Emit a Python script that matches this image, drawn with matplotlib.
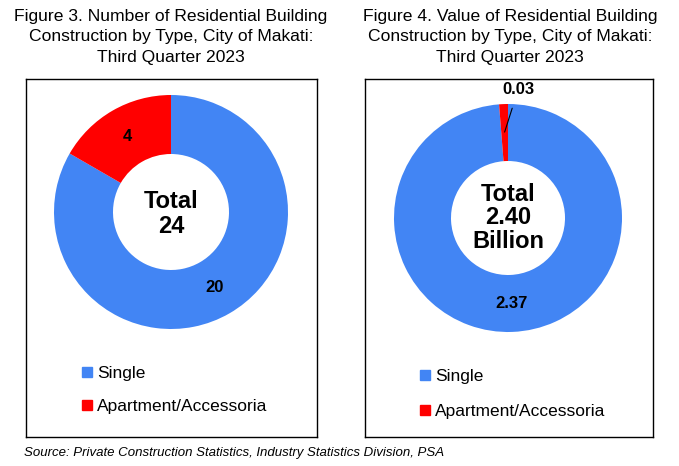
import matplotlib.pyplot as plt
from matplotlib.patches import Patch
import numpy as np

plt.rcParams['font.family'] = ['Liberation Sans', 'DejaVu Sans']

categories = ['Single', 'Apartment/Accessoria']
count_values = [20, 4]
value_billions = [2.37, 0.03]
count_labels = ['20', '4']
value_labels = ['2.37', '0.03']
colors = ['#4285F4', '#FF0000']

W, H = 679, 466
fig = plt.figure(figsize=(W / 100, H / 100), dpi=100)


def panel_axes(x0, y0, x1, y1):
    # box given in pixel coords from top-left
    ax = fig.add_axes([x0 / W, 1 - y1 / H, (x1 - x0) / W, (y1 - y0) / H])
    return ax


def tidy(ax, w, h):
    ax.set_xlim(0, w)
    ax.set_ylim(0, h)
    ax.set_xticks([])
    ax.set_yticks([])
    for s in ax.spines.values():
        s.set_linewidth(1.0)
        s.set_color('black')


label_style = dict(fontsize=12, fontweight='bold', ha='center', va='center')

# Figure 3 - count
ax1 = panel_axes(26, 79, 317, 437)
c1 = (145, 225)
wedges, texts = ax1.pie(count_values, colors=colors, startangle=90, counterclock=False,
                        radius=117, center=c1, labels=count_labels, labeldistance=0.75,
                        wedgeprops=dict(width=59, linewidth=0),
                        textprops=label_style, frame=True)
tidy(ax1, 291, 358)
ax1.text(c1[0], c1[1] - 2, 'Total\n24', ha='center', va='center', fontsize=17,
         fontweight='bold', linespacing=1.1)
ax1.legend([Patch(color=c) for c in colors], categories, loc='upper left',
           bbox_to_anchor=(0.139, 0.242), frameon=False, fontsize=12.5,
           handlelength=0.55, handleheight=0.55, handletextpad=0.3, labelspacing=1.04)

# Figure 4 - value
ax2 = panel_axes(365, 79, 653, 437)
c2 = (143, 219)
wedges2, texts2 = ax2.pie(value_billions, colors=colors, startangle=90, counterclock=False,
                          radius=114, center=c2, labels=[value_labels[0], ''],
                          labeldistance=0.75,
                          wedgeprops=dict(width=57, linewidth=0),
                          textprops=label_style, frame=True)
tidy(ax2, 288, 358)
w = wedges2[1]
mid = np.deg2rad((w.theta1 + w.theta2) / 2)
tip = (c2[0] + 86 * np.cos(mid), c2[1] + 86 * np.sin(mid))
ax2.annotate(value_labels[1], xy=tip, xytext=(c2[0] + 10, c2[1] + 128),
             **label_style,
             arrowprops=dict(arrowstyle='-', color='black', lw=0.8, shrinkA=6, shrinkB=0))
ax2.text(c2[0], c2[1], 'Total\n2.40\nBillion', ha='center', va='center', fontsize=17,
         fontweight='bold', linespacing=1.05)
ax2.legend([Patch(color=c) for c in colors], categories, loc='upper left',
           bbox_to_anchor=(0.138, 0.233), frameon=False, fontsize=12.5,
           handlelength=0.55, handleheight=0.55, handletextpad=0.3, labelspacing=1.15)

fig.text(171 / W, 1 - 37 / H,
         'Figure 3. Number of Residential Building\nConstruction by Type, City of Makati:\nThird Quarter 2023',
         ha='center', va='center', fontsize=12.6, linespacing=1.42)
fig.text(510 / W, 1 - 37 / H,
         'Figure 4. Value of Residential Building\nConstruction by Type, City of Makati:\nThird Quarter 2023',
         ha='center', va='center', fontsize=12.6, linespacing=1.42)
fig.text(24 / W, 1 - 453 / H,
         'Source: Private Construction Statistics, Industry Statistics Division, PSA',
         ha='left', va='center', fontsize=9.5, style='italic')

fig.savefig('out.png', dpi=100)
